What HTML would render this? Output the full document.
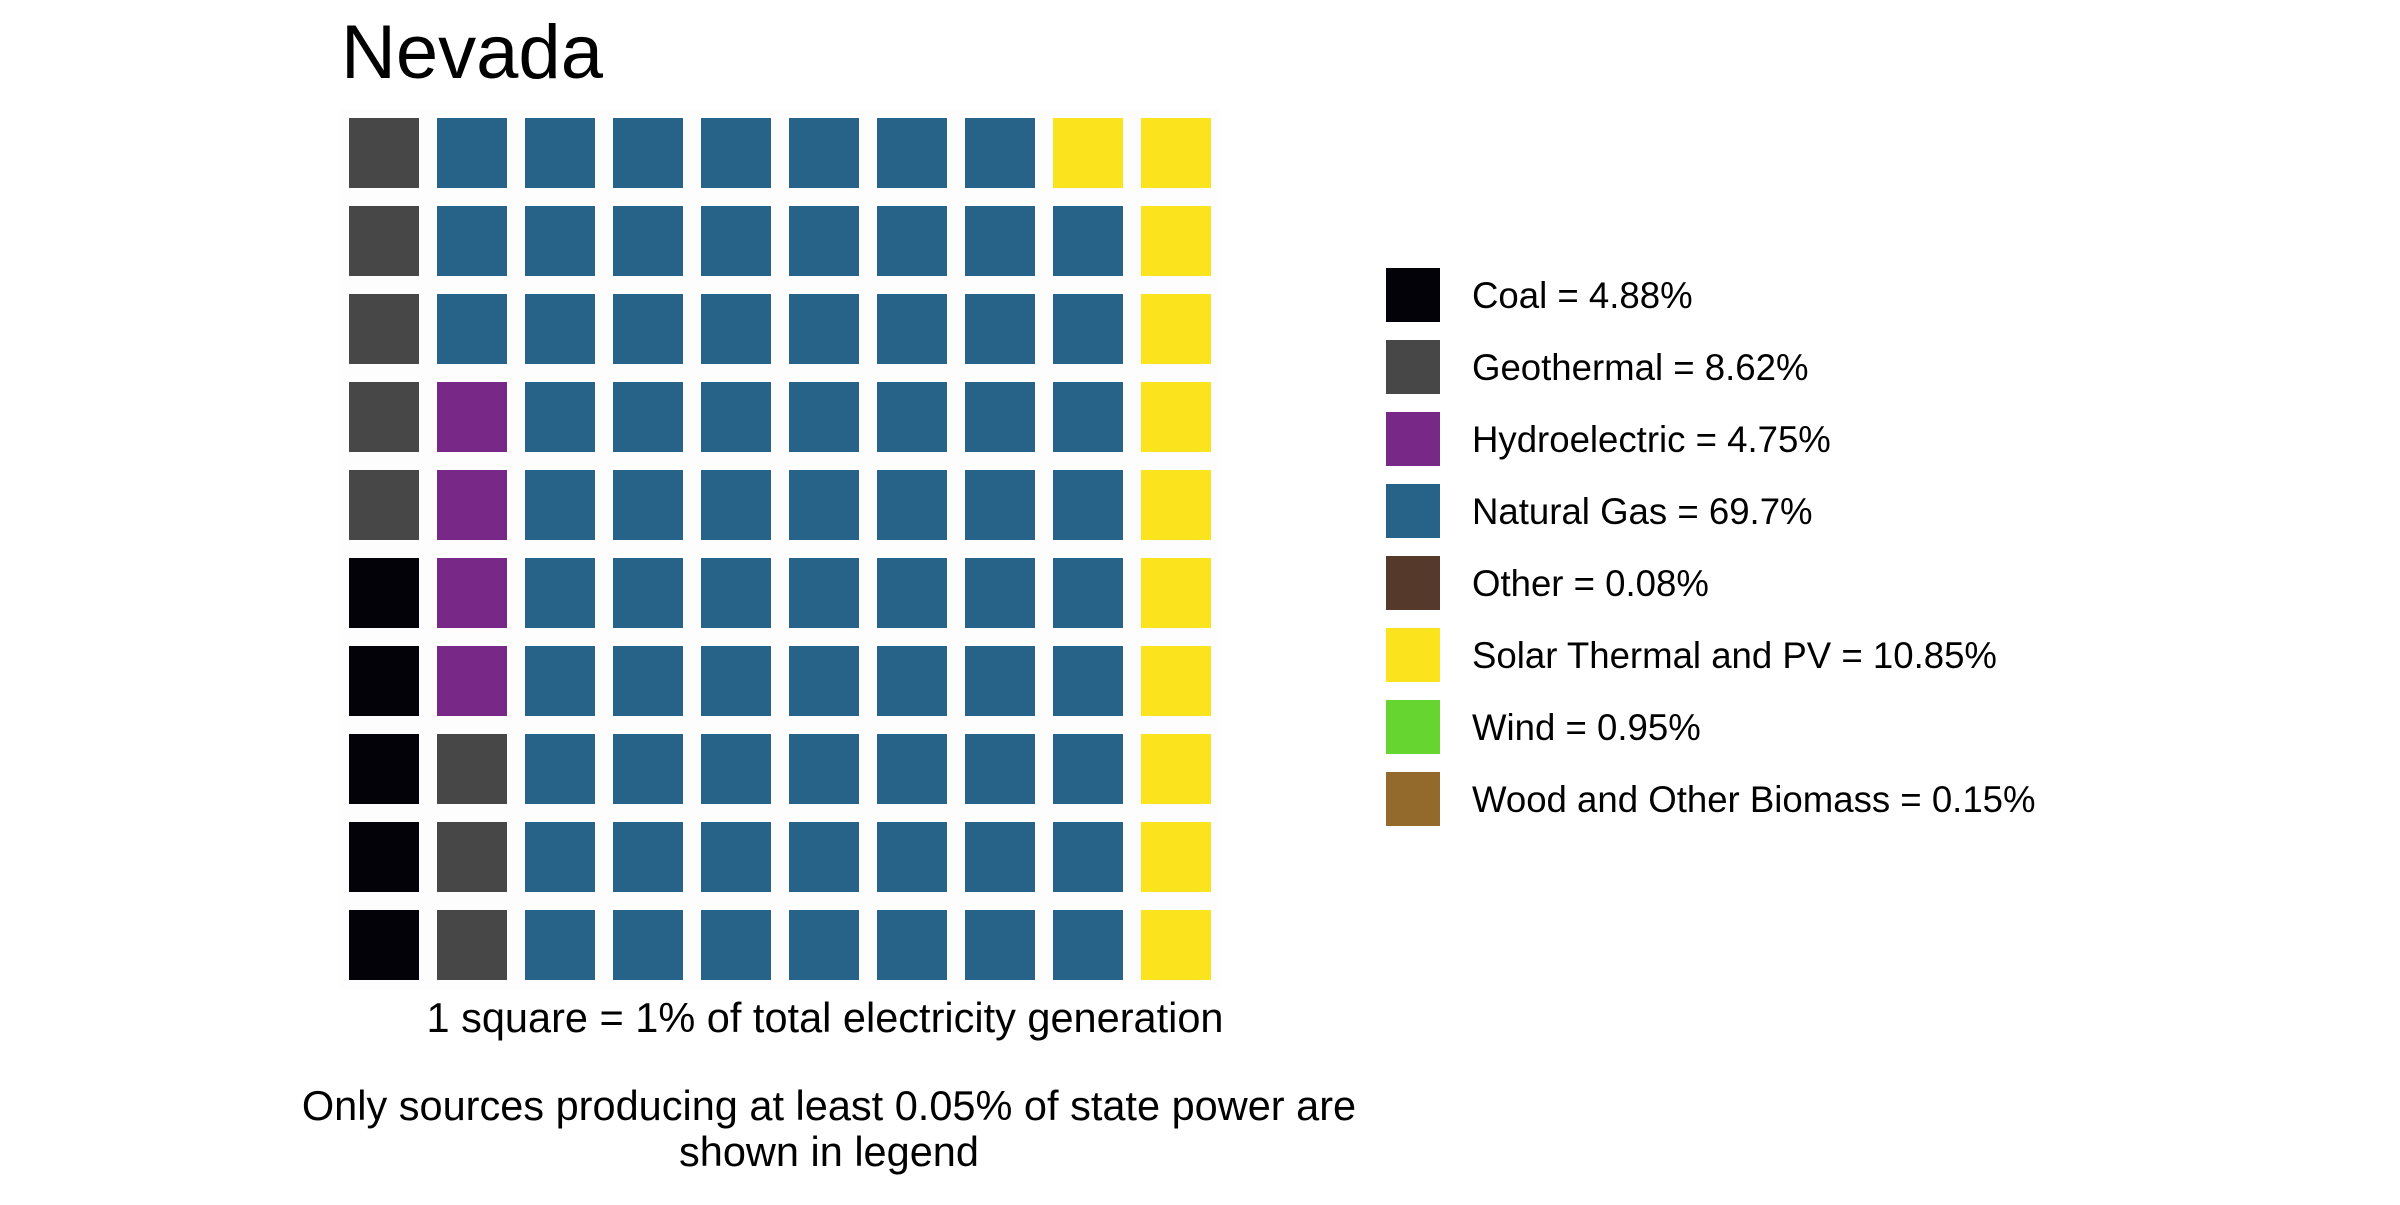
<!DOCTYPE html>
<html><head><meta charset="utf-8">
<style>
html,body{margin:0;padding:0;background:#fff;}
body{width:2400px;height:1200px;position:relative;overflow:hidden;font-family:"Liberation Sans",Arial,sans-serif;}
</style></head>
<body>
<svg id="chart" width="2400" height="1200" xmlns="http://www.w3.org/2000/svg" font-family="Liberation Sans, Arial, sans-serif">
  <text x="341" y="78" font-size="76" fill="#000">Nevada</text>
  <rect x="340" y="109" width="880" height="881" fill="#fdfdfd"/>
  <g id="cells"></g>
  <g id="legend"></g>
  <text x="825" y="1032" font-size="41.5" text-anchor="middle" fill="#000">1 square = 1% of total electricity generation</text>
  <text x="829" y="1120" font-size="41.5" text-anchor="middle" fill="#000">Only sources producing at least 0.05% of state power are</text>
  <text x="829" y="1166" font-size="41.5" text-anchor="middle" fill="#000">shown in legend</text>
</svg>
<script>
const categories = ["Coal","Geothermal","Hydroelectric","Natural Gas","Other","Solar Thermal and PV","Wind","Wood and Other Biomass"];
const percents = ["4.88","8.62","4.75","69.7","0.08","10.85","0.95","0.15"];
const squares = [5,8,4,72,0,11,0,0];
const colors = ["#020208","#474747","#782887","#276389","#55392A","#FBE41E","#66D530","#94692C"];

const NS="http://www.w3.org/2000/svg";
const x0=349, y0=118, pitch=88, size=70, nrows=10;
const colX = c => x0 + c*pitch;
const rowY = r => y0 + (nrows-1-r)*pitch; // r=0 bottom
const cells=document.getElementById('cells');
let idx=0;
squares.forEach((n,ci)=>{
  for(let k=0;k<n;k++){
    const col=Math.floor(idx/nrows), row=idx%nrows;
    const r=document.createElementNS(NS,'rect');
    r.setAttribute('x',colX(col)); r.setAttribute('y',rowY(row));
    r.setAttribute('width',size); r.setAttribute('height',size);
    r.setAttribute('fill',colors[ci]);
    
    
    cells.appendChild(r);
    idx++;
  }
});
const leg=document.getElementById('legend');
categories.forEach((c,i)=>{
  const y=268+i*72;
  const g=document.createElementNS(NS,'g');
  
  
  const r=document.createElementNS(NS,'rect');
  r.setAttribute('x',1386); r.setAttribute('y',y); r.setAttribute('width',54); r.setAttribute('height',54);
  r.setAttribute('fill',colors[i]);
  
  
  const t=document.createElementNS(NS,'text');
  t.setAttribute('x',1472); t.setAttribute('y',y+40); t.setAttribute('font-size','36.6');
  t.textContent=c+' = '+percents[i]+'%';
  
  
  g.appendChild(r); g.appendChild(t); leg.appendChild(g);
});
</script>
</body></html>
